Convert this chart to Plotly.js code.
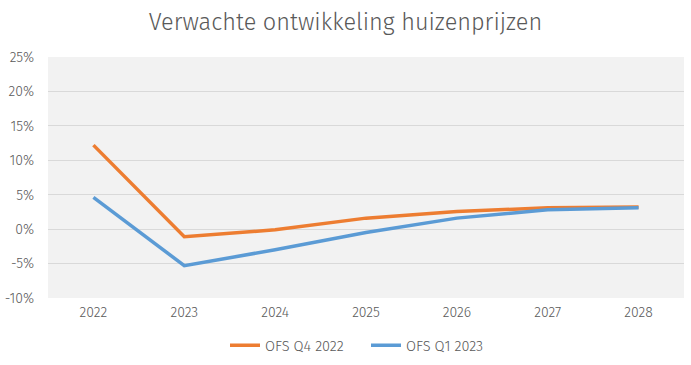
<!DOCTYPE html>
<html><head><meta charset="utf-8">
<script src="https://cdn.plot.ly/plotly-3.0.1.min.js"></script>
<style>html,body{margin:0;padding:0;background:#fff}#chart{width:691px;height:365px}</style>
</head><body><div id="chart"></div>
<script>
const years = ['2022','2023','2024','2025','2026','2027','2028'];
const ofsQ4_2022 = [12.2, -1.1, -0.1, 1.6, 2.55, 3.1, 3.2];
const ofsQ1_2023 = [4.6, -5.3, -3.0, -0.5, 1.6, 2.8, 3.1];
const yTicks = [-10, -5, 0, 5, 10, 15, 20, 25];
const yTickLabels = yTicks.map(v => v + '%');

const font = 'Fira Sans Light, Fira Sans, Open Sans, sans-serif';
const traces = [
  {x: years, y: ofsQ4_2022, name: 'OFS Q4 2022', type: 'scatter', mode: 'lines',
   line: {color: '#ED7D31', width: 3.5}},
  {x: years, y: ofsQ1_2023, name: 'OFS Q1 2023', type: 'scatter', mode: 'lines',
   line: {color: '#5B9BD5', width: 3.5}}
];
const layout = {
  width: 691, height: 365,
  margin: {l: 48, r: 7, t: 57, b: 67, autoexpand: false},
  paper_bgcolor: '#ffffff',
  plot_bgcolor: '#f2f2f2',
  font: {family: font, color: '#595959', size: 14, weight: 300},
  title: {text: 'Verwachte ontwikkeling huizenprijzen', x: 0.5, xanchor: 'center', y: 0.94, yanchor: 'middle',
          font: {family: font, size: 23.5, color: '#595959', weight: 300}},
  xaxis: {type: 'category', range: [-0.5, 6.5], showgrid: false, zeroline: false, showline: false,
          ticks: '', ticklabelstandoff: 4, tickfont: {size: 14, color: '#595959', weight: 300}, fixedrange: true},
  yaxis: {range: [-10, 25], tickvals: yTicks, ticktext: yTickLabels, showgrid: true, gridcolor: '#d9d9d9',
          gridwidth: 1, zeroline: false, showline: false, ticks: '', ticklen: 0, ticklabelstandoff: 13,
          tickfont: {size: 14, color: '#595959', weight: 300}, fixedrange: true},
  showlegend: true,
  legend: {orientation: 'h', x: 0.5, xanchor: 'center', y: -0.13, yanchor: 'top', entrywidth: 96,
           font: {size: 14.5, color: '#595959', weight: 300}, tracegroupgap: 0}
};
Plotly.newPlot('chart', traces, layout, {displayModeBar: false, staticPlot: true});
</script></body></html>
